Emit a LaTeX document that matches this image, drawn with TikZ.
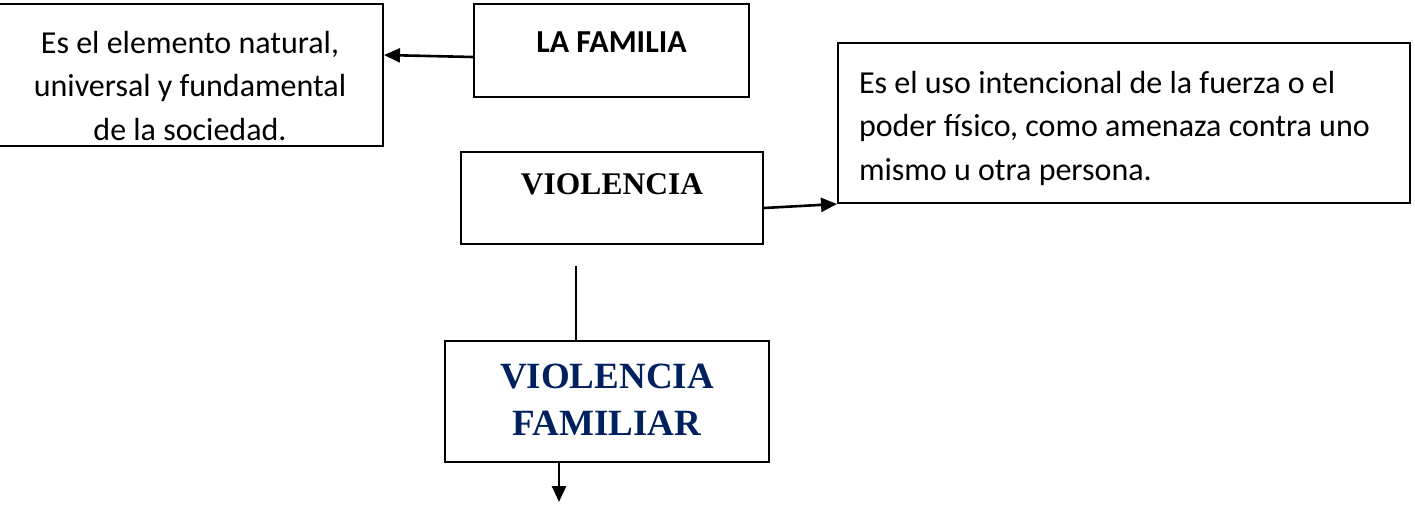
\documentclass[tikz,border=0pt]{standalone}
\usepackage{fontspec}
\setmainfont{Carlito}
\newfontfamily\tnr{Liberation Serif}
\usetikzlibrary{arrows.meta}
\definecolor{navy}{RGB}{0,32,96}
\begin{document}
\begin{tikzpicture}[x=1pt,y=-1pt,
		caja/.style={draw, line width=2pt, inner sep=0pt},
		flecha/.style={line width=2.6pt, -{Triangle[length=16pt,width=14pt]}}]
		\useasboundingbox (0,0) rectangle (1415,506);
		\node[caja, minimum width=386pt, minimum height=142pt, text width=370pt, align=flush center, text height=30pt, text depth=74pt, font=\fontsize{32}{43.5}\selectfont] (famdef) at (190,75) {Es el elemento natural,\\ universal y fundamental\\ de la sociedad.};
		\node[caja, minimum width=275pt, minimum height=93pt, text height=20pt, text depth=17pt, font=\fontsize{32}{38}\selectfont\bfseries] (familia) at (611.5,50.5) {LA FAMILIA};
		\node[caja, minimum width=302pt, minimum height=92pt, text height=22pt, text depth=30pt, font=\fontsize{31.5}{38}\selectfont\tnr\bfseries] (violencia) at (612,198) {VIOLENCIA};
		\node[caja, minimum width=572pt, minimum height=160pt, text width=530pt, inner xsep=21pt, align=flush left, text height=30pt, text depth=90pt, font=\fontsize{32}{43.5}\selectfont] (defviol) at (1124,123) {Es el uso intencional de la fuerza o el\\ poder físico, como amenaza contra uno\\ mismo u otra persona.};
		\node[caja, minimum width=324pt, minimum height=121pt, text width=310pt, align=flush center, text height=26pt, text depth=53pt, text=navy, font=\fontsize{37}{47}\selectfont\tnr\bfseries] (vf) at (607,401.5) {VIOLENCIA\\ FAMILIAR};
		\coordinate (vtop) at (576,266);
		\coordinate (vfend) at (559,502);
		\draw[flecha] ([yshift=-6.5pt]familia.west) -- ([yshift=20pt]famdef.east);
		\draw[flecha] ([yshift=-10pt]violencia.east) -- (defviol.south west);
		\draw[line width=2pt] (vtop) -- (vtop |- vf.north);
		\draw[flecha] (vfend |- vf.south) -- (vfend);
	\end{tikzpicture}
\end{document}
